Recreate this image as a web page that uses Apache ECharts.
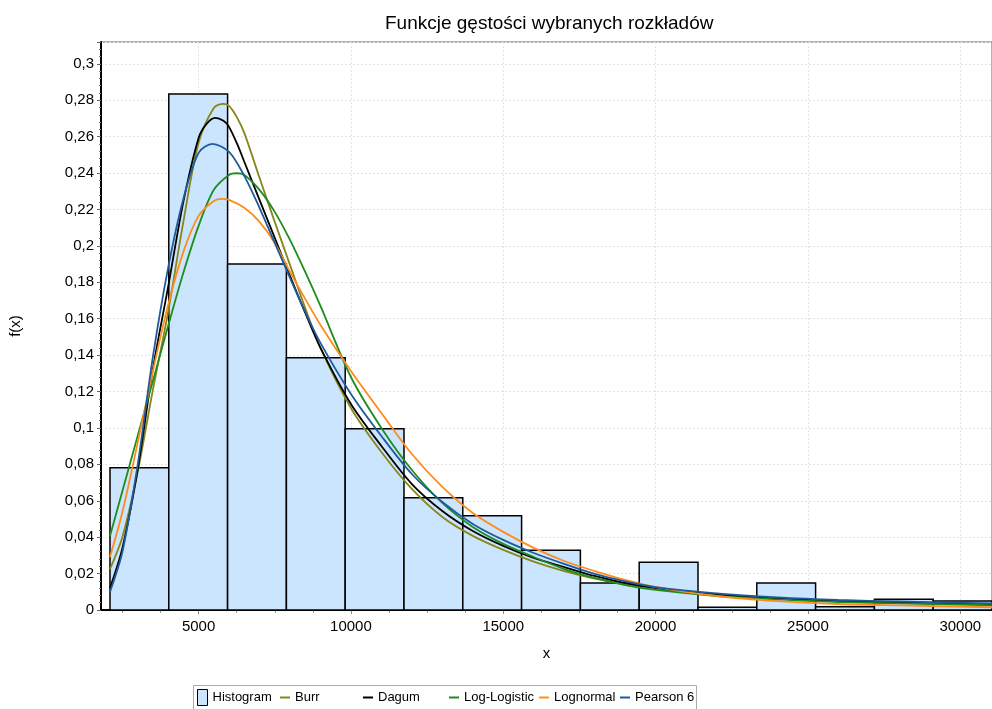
<!DOCTYPE html>
<html>
<head>
<meta charset="utf-8">
<script src="https://cdn.jsdelivr.net/npm/echarts@6/dist/echarts.min.js"></script>
<style>
  html, body { margin: 0; padding: 0; background: #fff; }
  #chart { width: 992px; height: 709px; }
</style>
</head>
<body>
<div id="chart"></div>
<script>
const FONT = "'Liberation Sans', Arial, sans-serif";

const X_MIN = 1797;
const X_MAX = 31042;

// histogram: 15 equal bins
const BIN_EDGES = [2092, 4022, 5952, 7882, 9812, 11742, 13672, 15602, 17532,
  19462, 21392, 23322, 25252, 27182, 29112, 31042];
const HIST_HEIGHTS = [0.0782, 0.2834, 0.190, 0.1386, 0.0996, 0.0617, 0.0518,
  0.0328, 0.0148, 0.0262, 0.0015, 0.0148, 0.0018, 0.0059, 0.0049];

const MINOR_X = [2500, 3750, 6250, 7500, 8750, 11250, 12500, 13750, 16250, 17500,
  18750, 21250, 22500, 23750, 26250, 27500, 28750];

// fitted densities, [x, f(x)]
const BURR = [[2092, 0.0225], [2500, 0.0401], [3000, 0.0758], [3500, 0.1209], [4000, 0.1637],
  [4500, 0.2132], [5000, 0.2566], [5500, 0.2758], [5817, 0.2780], [6000, 0.2769],
  [6250, 0.2709], [6500, 0.2621], [7000, 0.2374], [7500, 0.2132], [8000, 0.1896],
  [8500, 0.1659], [9000, 0.1440], [10000, 0.1110], [11000, 0.0868], [12000, 0.0665],
  [13000, 0.0511], [14000, 0.0407], [15000, 0.0330], [16000, 0.0266], [17000, 0.0214],
  [18000, 0.0173], [19000, 0.0143], [20000, 0.0118], [22000, 0.0085], [24000, 0.0063],
  [26000, 0.0049], [28000, 0.0038], [31042, 0.0027]];
const DAGUM = [[2092, 0.0121], [2500, 0.0341], [3000, 0.0769], [3500, 0.1324], [4000, 0.1775],
  [4500, 0.2242], [5000, 0.2593], [5262, 0.2670], [5546, 0.2703], [5817, 0.2687],
  [6000, 0.2654], [6307, 0.2544], [6500, 0.2462], [7000, 0.2253], [7500, 0.2044],
  [8000, 0.1835], [8500, 0.1632], [9000, 0.1440], [10000, 0.1132], [11000, 0.0901],
  [12000, 0.0692], [13000, 0.0544], [14000, 0.0434], [15000, 0.0352], [16000, 0.0286],
  [17000, 0.0236], [18000, 0.0187], [19000, 0.0148], [20000, 0.0121], [22000, 0.0085],
  [24000, 0.0063], [26000, 0.0049], [28000, 0.0041], [31042, 0.0030]];
const LOG_LOGISTIC = [[2092, 0.0407], [2500, 0.0654], [3000, 0.0956], [3500, 0.1258],
  [4000, 0.1560], [4500, 0.1852], [5000, 0.2110], [5500, 0.2308], [6000, 0.2390],
  [6252, 0.2399], [6500, 0.2390], [7000, 0.2308], [7500, 0.2187], [8000, 0.2033],
  [8500, 0.1857], [9000, 0.1670], [10000, 0.1280], [11000, 0.1000], [12000, 0.0769],
  [13000, 0.0588], [14000, 0.0456], [15000, 0.0363], [16000, 0.0291], [17000, 0.0225],
  [18000, 0.0176], [19000, 0.0137], [20000, 0.0110], [22000, 0.0077], [24000, 0.0058],
  [26000, 0.0044], [28000, 0.0036], [31042, 0.0027]];
const LOGNORMAL = [[2092, 0.0291], [2500, 0.0538], [3000, 0.0918], [3500, 0.1313],
  [4000, 0.1676], [4500, 0.1967], [5000, 0.2165], [5500, 0.2247], [5761, 0.2258],
  [6000, 0.2253], [6500, 0.2209], [7000, 0.2132], [7500, 0.2016], [8000, 0.1857],
  [8500, 0.1709], [9000, 0.1566], [10000, 0.1313], [11000, 0.1082], [12000, 0.0857],
  [13000, 0.0676], [14000, 0.0533], [15000, 0.0429], [16000, 0.0341], [17000, 0.0269],
  [18000, 0.0214], [19000, 0.0165], [20000, 0.0126], [22000, 0.0077], [24000, 0.0049],
  [26000, 0.0033], [28000, 0.0025], [31042, 0.0015]];
const PEARSON6 = [[2092, 0.0099], [2500, 0.0319], [3000, 0.0797], [3500, 0.1390],
  [4000, 0.1879], [4500, 0.2258], [5000, 0.2511], [5458, 0.2560], [6000, 0.2516],
  [6500, 0.2385], [7000, 0.2209], [7500, 0.2016], [8000, 0.1824], [8500, 0.1637],
  [9000, 0.1467], [10000, 0.1187], [11000, 0.0956], [12000, 0.0747], [13000, 0.0593],
  [14000, 0.0473], [15000, 0.0385], [16000, 0.0313], [17000, 0.0253], [18000, 0.0198],
  [19000, 0.0157], [20000, 0.0126], [22000, 0.0091], [24000, 0.0069], [26000, 0.0055],
  [28000, 0.0047], [31042, 0.0036]];

const CURVES = [
  { name: 'Burr', data: BURR, color: '#86861a' },
  { name: 'Dagum', data: DAGUM, color: '#000000' },
  { name: 'Log-Logistic', data: LOG_LOGISTIC, color: '#1e8c1e' },
  { name: 'Lognormal', data: LOGNORMAL, color: '#ff8c1a' },
  { name: 'Pearson 6', data: PEARSON6, color: '#1f5a9c' },
];

const HIST_FILL = '#cce5ff';
const LINE_ICON = 'path://M0,0H10V2H0Z';

// the original legend sits on a fixed column pitch, so one legend per entry
const LEGEND_NAMES = ['Histogram', 'Burr', 'Dagum', 'Log-Logistic', 'Lognormal', 'Pearson 6'];
const LEGEND_LEFT = [193, 276, 359, 445, 535, 616];

const histData = HIST_HEIGHTS.map((h, i) => [BIN_EDGES[i], BIN_EDGES[i + 1], h]);

function renderBin(params, api) {
  const top = api.coord([api.value(0), api.value(2)]);
  const bottom = api.coord([api.value(1), 0]);
  return {
    type: 'rect',
    shape: { x: top[0], y: top[1], width: bottom[0] - top[0], height: bottom[1] - top[1] },
    style: { fill: HIST_FILL, stroke: '#000', lineWidth: 1.5 },
  };
}

function legendItem(name) {
  if (name === 'Histogram') {
    return { name, icon: 'rect', itemStyle: { color: HIST_FILL, borderColor: '#000', borderWidth: 1 } };
  }
  return { name, icon: LINE_ICON };
}

const chart = echarts.init(document.getElementById('chart'), null, { renderer: 'canvas' });

chart.setOption({
  backgroundColor: '#fff',
  animation: false,
  textStyle: { fontFamily: FONT },
  title: {
    text: 'Funkcje gęstości wybranych rozkładów',
    left: 380, top: 9,
    textStyle: { fontFamily: FONT, fontSize: 19, fontWeight: 'normal', color: '#000' },
  },
  graphic: [{
    type: 'rect', left: 193, top: 685,
    shape: { width: 503, height: 40 },
    style: { fill: 'transparent', stroke: '#aaa', lineWidth: 1 },
    silent: true,
  }],
  legend: LEGEND_NAMES.map((name, i) => ({
    left: LEGEND_LEFT[i], top: name === 'Histogram' ? 686 : 688,
    padding: [3, 4, 3, 4],
    itemWidth: 10, itemHeight: 16,
    textStyle: { fontFamily: FONT, fontSize: 13, color: '#000' },
    data: [legendItem(name)],
  })),
  grid: { left: 97, right: 0, top: 42, bottom: 99, show: true, borderColor: '#666', borderWidth: 1 },
  xAxis: [{
    type: 'value', min: X_MIN, max: X_MAX, splitNumber: 6,
    name: 'x', nameLocation: 'middle', nameGap: 36,
    nameTextStyle: { fontFamily: FONT, fontSize: 15, color: '#000' },
    axisLine: { lineStyle: { color: '#000', width: 2 } },
    axisTick: { length: 4, lineStyle: { color: '#888' } },
    axisLabel: {
      showMinLabel: false, showMaxLabel: false, fontFamily: FONT, fontSize: 15,
      color: '#000', margin: 9, formatter: v => String(v),
    },
    splitLine: { lineStyle: { color: '#e4e4e4', type: [2, 2] } },
  }, {
    type: 'value', min: X_MIN, max: X_MAX, position: 'bottom',
    axisLine: { show: false },
    axisLabel: { show: false },
    splitLine: { show: false },
    axisTick: { customValues: MINOR_X, length: 3, lineStyle: { color: '#999' } },
  }],
  yAxis: {
    type: 'value', min: 0, max: 0.312, interval: 0.02,
    name: 'f(x)', nameLocation: 'middle', nameGap: 78,
    nameTextStyle: { fontFamily: FONT, fontSize: 15, color: '#000' },
    axisLine: { show: true, lineStyle: { color: '#000', width: 2 } },
    axisTick: { show: true, length: 4, lineStyle: { color: '#666' } },
    minorTick: { show: true, splitNumber: 5, length: 2, lineStyle: { color: '#888' } },
    axisLabel: {
      showMaxLabel: false, fontFamily: FONT, fontSize: 15, color: '#000', margin: 7,
      formatter: v => String(+v.toFixed(3)).replace('.', ','),
    },
    splitLine: { lineStyle: { color: '#e4e4e4', type: [2, 2] } },
  },
  series: [
    {
      name: 'Histogram', type: 'custom', renderItem: renderBin,
      itemStyle: { color: HIST_FILL, borderColor: '#000' },
      encode: { x: [0, 1], y: 2 }, data: histData, z: 1,
    },
    ...CURVES.map(c => ({
      name: c.name, type: 'line', smooth: 0.3, symbol: 'none',
      lineStyle: { color: c.color, width: 1.8 }, itemStyle: { color: c.color },
      data: c.data, z: 3,
    })),
  ],
});
</script>
</body>
</html>
